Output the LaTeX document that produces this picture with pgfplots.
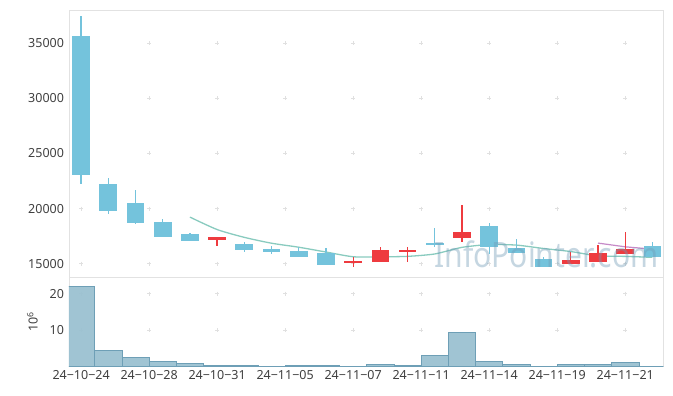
\documentclass[border=0pt]{standalone}
\usepackage{pgfplots}
\pgfplotsset{compat=1.18}
\usepackage{pgfplotstable}
\usepackage{fontspec}
\setmainfont{Noto Sans}
\definecolor{dn}{HTML}{74C3DC}
\definecolor{upc}{HTML}{EE3B3F}
\definecolor{maf}{HTML}{89CBBF}
\definecolor{mas}{HTML}{C68AC8}
\definecolor{volf}{HTML}{9BC1D1}
\definecolor{vole}{HTML}{6E9FB6}
\definecolor{framec}{HTML}{E2E2E2}
\definecolor{gridc}{HTML}{E0E0E0}
\definecolor{txt}{HTML}{404040}
\definecolor{wm}{RGB}{111,154,181}

\pgfplotstableread{
x o h l c
0 35662 37477 22204 23076
1 22232 22749 19537 19810
2 20508 21688 18630 18720
3 18784 19029 17395 17450
4 17695 17813 17033 17087
6 16788 16942 16089 16270
7 16334 16633 15853 16062
8 16152 16543 15635 15635
9 15998 16452 14909 14909
13 16878 18212 16543 16724
15 18448 18666 15880 16543
16 16397 17241 15940 15998
17 15426 15580 14728 14728
21 16606 16942 15580 15580
}\down

\pgfplotstableread{
x o h l c
5 17150 17423 16606 17423
10 15091 15580 14728 15272
11 15154 16543 15154 16243
12 16062 16488 15127 16270
14 17359 20326 16942 17904
18 14973 16034 14973 15336
19 15181 16670 15181 15943
20 15907 17850 15907 16306
}\up

\pgfplotstableread{
x ma
4 19228.6
5 18098
6 17390
7 16858.4
8 16495.4
9 16059.8
10 15629.6
11 15624.2
12 15665.8
13 15883.6
14 16482.6
15 16736.8
16 16687.8
17 16379.4
18 16101.8
19 15709.6
20 15662.2
21 15578.6
}\mafive

\pgfplotstableread{
x ma
19 16870
20 16531.7
21 16320
}\matwenty

\pgfplotstableread{
x v
0 22.1
1 4.55
2 2.55
3 1.46
4 0.92
5 0.46
6 0.46
7 0.18
8 0.46
9 0.46
10 0.18
11 0.73
12 0.36
13 3.19
14 9.37
15 1.55
16 0.73
17 0.18
18 0.73
19 0.73
20 1.27
21 0.18
}\vol

\pgfplotsset{
  common/.style={
    clip marker paths=true,
    scale only axis,
    width=594.3pt,
    xmin=-0.445, xmax=21.4,
    axis line style={draw=framec},
    major tick length=0pt,
    tick label style={font=\fontsize{12.5}{14}\selectfont, text=txt},
    /pgf/number format/assume math mode=true,
    /pgf/number format/1000 sep={},
    scaled y ticks=false,
    yticklabel style={xshift=-1.5pt},
    xtick={0,2.5,5,7.5,10,12.5,15,17.5,20},
  },
  crosses/.style={only marks, mark=+, mark size=2pt, mark options={draw=gridc, line width=0.6pt}, forget plot},
  wick/.style={draw=none, mark=none, forget plot,
    error bars/.cd, y dir=both, y explicit, error mark=none,
    error bar style={line width=1.3pt, draw=#1}},
  body/.style={draw=none, mark=none, forget plot,
    error bars/.cd, y dir=both, y explicit, error mark=none,
    error bar style={line width=17.7pt, draw=#1}},
}

\begin{document}
\begin{tikzpicture}
\path[use as bounding box, fill=white] (0,0) rectangle (673pt,396pt);
% ---------- price panel ----------
\begin{axis}[common,
  at={(69pt,118.7pt)}, anchor=south west,
  height=266.6pt,
  ymin=13766, ymax=37958,
  ytick={15000,20000,25000,30000,35000},
  xticklabels={},
]
\addplot[crosses] coordinates {
(0,15000)(2.5,15000)(5,15000)(7.5,15000)(10,15000)(12.5,15000)(15,15000)(17.5,15000)(20,15000)
(0,20000)(2.5,20000)(5,20000)(7.5,20000)(10,20000)(12.5,20000)(15,20000)(17.5,20000)(20,20000)
(0,25000)(2.5,25000)(5,25000)(7.5,25000)(10,25000)(12.5,25000)(15,25000)(17.5,25000)(20,25000)
(0,30000)(2.5,30000)(5,30000)(7.5,30000)(10,30000)(12.5,30000)(15,30000)(17.5,30000)(20,30000)
(0,35000)(2.5,35000)(5,35000)(7.5,35000)(10,35000)(12.5,35000)(15,35000)(17.5,35000)(20,35000)
};
\addplot[maf, line width=1.3pt, smooth, tension=0.4] table[x=x, y=ma] {\mafive};
\addplot[mas, line width=1.2pt] table[x=x, y=ma] {\matwenty};
\addplot[wick=dn] table[x=x, y expr={(\thisrow{h}+\thisrow{l})/2}, y error expr={(\thisrow{h}-\thisrow{l})/2}] {\down};
\addplot[body=dn] table[x=x, y expr={(\thisrow{o}+\thisrow{c})/2}, y error expr={abs(\thisrow{o}-\thisrow{c})/2}] {\down};
\addplot[wick=upc] table[x=x, y expr={(\thisrow{h}+\thisrow{l})/2}, y error expr={(\thisrow{h}-\thisrow{l})/2}] {\up};
\addplot[body=upc] table[x=x, y expr={(\thisrow{o}+\thisrow{c})/2}, y error expr={abs(\thisrow{o}-\thisrow{c})/2}] {\up};
\node[text=wm, opacity=0.4, font=\fontsize{35}{35}\selectfont, xscale=0.86, anchor=center] at (rel axis cs:0.8035,0.085) {InfoPointer.com};
\end{axis}
% ---------- volume panel ----------
\begin{axis}[common,
  at={(69pt,29.3pt)}, anchor=south west,
  height=89.4pt,
  ymin=0, ymax=24.5,
  ytick={10,20},
  xticklabels={24−10−24,24−10−28,24−10−31,24−11−05,24−11−07,24−11−11,24−11−14,24−11−19,24−11−21},
  ylabel={10\textsuperscript{6}},
  ylabel style={font=\fontsize{12.5}{14}\selectfont, text=txt, yshift=5pt},
]
\addplot[crosses] coordinates {
(0,10)(2.5,10)(5,10)(7.5,10)(10,10)(12.5,10)(15,10)(17.5,10)(20,10)
(0,20)(2.5,20)(5,20)(7.5,20)(10,20)(12.5,20)(15,20)(17.5,20)(20,20)
};
\addplot[ybar, bar width=1, bar shift=0pt, fill=volf, fill opacity=0.95, draw=vole, line width=0.6pt] table[x=x, y=v] {\vol};
\end{axis}
\end{tikzpicture}
\end{document}
